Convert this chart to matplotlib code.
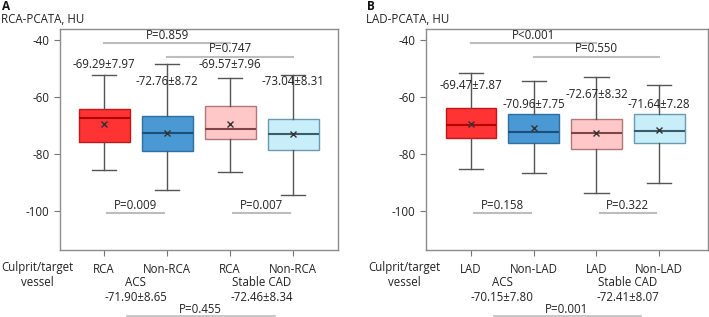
import matplotlib
matplotlib.use('Agg')
import matplotlib.pyplot as plt
import matplotlib.transforms as mtransforms

plt.rcParams['font.family'] = ['Open Sans', 'DejaVu Sans']
plt.rcParams['font.size'] = 7.9

# ---- data ----
rca_labels = ['RCA', 'Non-RCA', 'RCA', 'Non-RCA']
rca_whislo = [-85.7, -92.7, -86.3, -94.3]
rca_q1 = [-75.7, -79.0, -74.7, -78.5]
rca_med = [-67.5, -72.6, -71.3, -73.0]
rca_q3 = [-64.3, -66.6, -63.3, -67.6]
rca_whishi = [-52.1, -48.5, -53.2, -52.2]
rca_mean = [-69.29, -72.76, -69.57, -73.04]
rca_sd = [7.97, 8.72, 7.96, 8.31]
rca_group_mean = [-71.90, -72.46]
rca_group_sd = [8.65, 8.34]
rca_p_within = ['P=0.009', 'P=0.007']
rca_p_cross = ['P=0.859', 'P=0.747']
rca_p_group = 'P=0.455'

lad_labels = ['LAD', 'Non-LAD', 'LAD', 'Non-LAD']
lad_whislo = [-85.4, -86.8, -93.6, -90.0]
lad_q1 = [-74.4, -76.1, -78.2, -76.1]
lad_med = [-69.9, -72.2, -72.5, -72.0]
lad_q3 = [-64.0, -66.1, -67.6, -66.1]
lad_whishi = [-51.6, -54.3, -52.8, -55.8]
lad_mean = [-69.47, -70.96, -72.67, -71.64]
lad_sd = [7.87, 7.75, 8.32, 7.28]
lad_group_mean = [-70.15, -72.41]
lad_group_sd = [7.80, 8.07]
lad_p_within = ['P=0.158', 'P=0.322']
lad_p_cross = ['P<0.001', 'P=0.550']
lad_p_group = 'P=0.001'

groups = ['ACS', 'Stable CAD']

fills = ['#ff3333', '#4a98d4', '#ffc8c8', '#c8eefa']
edges = ['#c01818', '#2f6fa3', '#b07878', '#6a9ab0']
medcols = ['#b00000', '#1f4e79', '#7f4444', '#3b5c6b']
pline = '#bdbdbd'
txt = '#222222'
fs = 8.3


def draw_panel(ax, labels, wlo, q1, med, q3, whi, mean, sd,
               gmean, gsd, p_within, p_cross, p_group, mean_y, xlim):
    pos = [1, 2, 3, 4]
    stats = []
    for i in range(4):
        stats.append(dict(whislo=wlo[i], q1=q1[i], med=med[i], q3=q3[i],
                          whishi=whi[i], mean=mean[i], fliers=[]))
    bp = ax.bxp(stats, positions=pos, widths=0.81, capwidths=0.39,
                patch_artist=True, showmeans=True, showfliers=False,
                whiskerprops=dict(color='#555555', lw=1),
                capprops=dict(color='#555555', lw=1),
                meanprops=dict(marker='x', markeredgecolor='#333333',
                               markersize=5, markeredgewidth=1))
    for i, b in enumerate(bp['boxes']):
        b.set_facecolor(fills[i])
        b.set_edgecolor(edges[i])
        b.set_linewidth(1)
    for i, m in enumerate(bp['medians']):
        m.set_color(medcols[i])
        m.set_linewidth(1.5)

    ax.set_xlim(*xlim)
    ax.set_ylim(-113.7, -36.1)
    ax.set_yticks([-40, -60, -80, -100])
    ax.set_yticklabels(['-40', '-60', '-80', '-100'])
    ax.set_xticks(pos)
    ax.set_xticklabels(labels)
    ax.tick_params(axis='both', colors='#777777', labelcolor=txt, length=4,
                   width=0.8, labelsize=fs)
    ax.tick_params(axis='x', pad=5.5)
    for s in ax.spines.values():
        s.set_color('#8c8c8c')
        s.set_linewidth(1)

    # mean +- sd above boxes
    for i in range(4):
        ax.text(pos[i], mean_y[i], '%.2f±%.2f' % (mean[i], sd[i]),
                ha='center', va='center', color=txt, fontsize=fs)

    # cross-group comparisons (top)
    for k, (a, b, y) in enumerate([(1, 3, -40.9), (2, 4, -45.8)]):
        ax.plot([a, b], [y, y], color=pline, lw=1.5, clip_on=False)
        ax.text((a + b) / 2, y + 0.4, p_cross[k], ha='center', va='bottom',
                color=txt, fontsize=fs)

    # within-group comparisons (bottom)
    for k, (a, b) in enumerate([(1.05, 1.95), (3.05, 3.95)]):
        ax.plot([a, b], [-100.6, -100.6], color=pline, lw=1.5)
        ax.text((a + b) / 2, -100.2, p_within[k], ha='center', va='bottom',
                color=txt, fontsize=fs)

    trans = mtransforms.blended_transform_factory(ax.transData, ax.transAxes)
    ax.text(-0.06, -0.077, 'Culprit/target', transform=trans, ha='center',
            va='center', color=txt, fontsize=fs)
    ax.text(-0.06, -0.145, 'vessel', transform=trans, ha='center',
            va='center', color=txt, fontsize=fs)
    for g in range(2):
        xc = 1.5 + 2 * g
        ax.text(xc, -0.147, groups[g], transform=trans, ha='center',
                va='center', color=txt, fontsize=fs)
        ax.text(xc, -0.213, '%.2f±%.2f' % (gmean[g], gsd[g]), transform=trans,
                ha='center', va='center', color=txt, fontsize=fs)
    ax.text(2.52, -0.27, p_group, transform=trans, ha='center', va='center',
            color=txt, fontsize=fs)
    ax.plot([1.36, 3.71], [-0.298, -0.298], transform=trans, color=pline,
            lw=1.2, clip_on=False)


fig = plt.figure(figsize=(7.09, 3.17), dpi=100)
W, H = 709.0, 317.0
axA = fig.add_axes([60 / W, (H - 250) / H, 278 / W, 221 / H])
axB = fig.add_axes([426 / W, (H - 250) / H, 282 / W, 221 / H])

draw_panel(axA, rca_labels, rca_whislo, rca_q1,
           rca_med, rca_q3, rca_whishi, rca_mean, rca_sd, rca_group_mean,
           rca_group_sd, rca_p_within, rca_p_cross, rca_p_group,
           [-48.7, -54.5, -48.7, -54.5], (0.30, 4.714))
draw_panel(axB, lad_labels, lad_whislo, lad_q1,
           lad_med, lad_q3, lad_whishi, lad_mean, lad_sd, lad_group_mean,
           lad_group_sd, lad_p_within, lad_p_cross, lad_p_group,
           [-56.1, -62.7, -59.2, -62.7], (0.28, 4.78))

# panel letters and y titles
for x0, letter, ylab in [(1, 'A', 'RCA-PCATA, HU'), (366, 'B', 'LAD-PCATA, HU')]:
    fig.text((x0 + 1) / W, 1 - 6 / H, letter, ha='left', va='center',
             fontweight='bold', fontsize=8.5, color='#111111')
    fig.text(x0 / W, 1 - 19.5 / H, ylab, ha='left', va='center',
             fontsize=fs, color=txt)

fig.savefig('out.png', dpi=100)
